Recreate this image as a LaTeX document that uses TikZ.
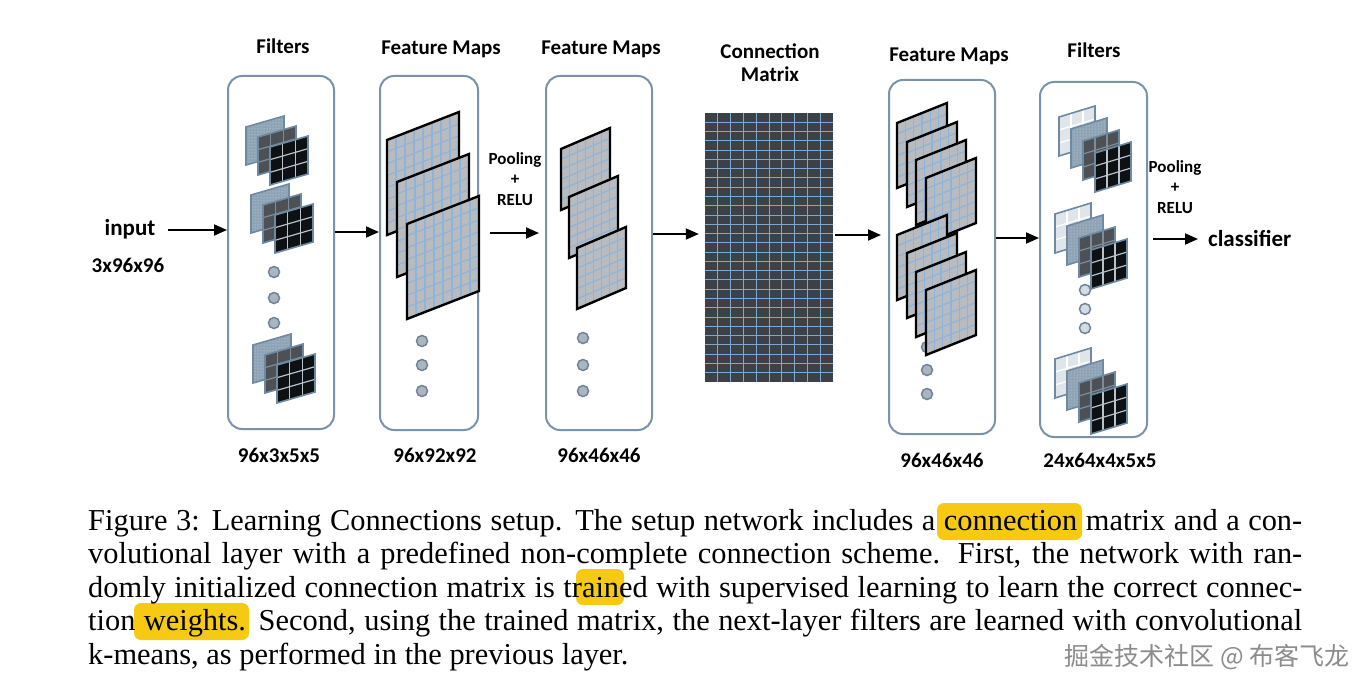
\documentclass[tikz,border=0pt]{standalone}
\usepackage{fontspec}
\usetikzlibrary{arrows.meta,patterns}
\newfontfamily\capfont{Liberation Serif}
\newfontfamily\lblfont{Carlito}
\newfontfamily\cjkfont{Noto Sans CJK SC}
\definecolor{boxedge}{HTML}{7A93AA}
\definecolor{fmgray}{HTML}{B8BCC1}
\definecolor{fmblue}{HTML}{8FB4D8}
\definecolor{matfill}{HTML}{3C4147}
\definecolor{matgrid}{HTML}{7EA8CF}
\definecolor{dotfill}{HTML}{AAB5C0}
\definecolor{dotedge}{HTML}{6F8497}
\definecolor{f1col}{HTML}{DFE5EA}
\definecolor{dotblue}{HTML}{8EA3B5}
\definecolor{dotwhite}{HTML}{D5DEE6}
\definecolor{f3col}{HTML}{4D5156}
\definecolor{f3grid}{HTML}{7F8B96}
\definecolor{f4col}{HTML}{0E1114}
\definecolor{f4grid}{HTML}{B9C2CA}
\definecolor{fedge}{HTML}{6F8AA0}
\definecolor{hlcol}{HTML}{F6C913}
\definecolor{wmcol}{HTML}{8C8C8C}
\tikzset{
  panelbox/.style={draw=boxedge, line width=2pt, rounded corners=14pt, inner sep=0pt, fill=white},
  lbl/.style={font=\lblfont\bfseries\fontsize{21}{24}\selectfont, inner sep=0pt},
  lblbig/.style={font=\lblfont\bfseries\fontsize{23}{26}\selectfont, inner sep=0pt},
  pooltext/.style={font=\lblfont\bfseries\fontsize{17}{20.5}\selectfont, inner sep=0pt, align=center},
  arr/.style={-{Triangle[length=13pt,width=11pt]}, line width=1.8pt, black},
  dotnode/.style={circle, fill=dotfill, draw=dotedge, line width=1.5pt, minimum size=11pt, inner sep=0pt},
  dotlight/.style={dotnode, fill=f1col!80!dotfill},
  matbox/.style={fill=matfill, draw=none, inner sep=0pt, minimum width=128pt, minimum height=269pt},
  matgridline/.style={draw=matgrid, line width=1pt},
  captext/.style={font=\capfont\fontsize{30.4}{33.5}\selectfont, inner sep=0pt, anchor=base west},
  wmtext/.style={font=\cjkfont\fontsize{25}{28}\selectfont, text=wmcol, inner sep=0pt},
  hlbox/.style={fill=hlcol, rounded corners=7pt},
  fmfill/.style={fill=fmgray},
  fmgrid/.style={draw=fmblue, line width=1.2pt},
  fmedge/.style={draw=black, line width=2.4pt, line join=miter},
  fonefill/.style={fill=f1col},
  fonegrid/.style={draw=white, line width=1.2pt},
  foneedge/.style={draw=fedge, line width=1.6pt},
  ftwofill/.style={fill=dotblue, postaction={pattern=dots, pattern color=dotwhite}},
  ftwogrid/.style={draw=dotwhite, line width=1pt},
  ftwoedge/.style={draw=fedge, line width=1.6pt},
  fthreefill/.style={fill=f3col},
  fthreegrid/.style={draw=f3grid, line width=1.2pt},
  fthreeedge/.style={draw=fedge, line width=1.6pt},
  ffourfill/.style={fill=f4col},
  ffourgrid/.style={draw=f4grid, line width=1.2pt},
  ffouredge/.style={draw=fedge, line width=1.6pt},
}
% parallelogram with grid: x, y (top-left), w, h, slant, n, style prefix
\newcommand\gpg[7]{%
  \fill[#7fill] (#1,#2) -- ++(#3,-#5) -- ++(0,#4) -- ++(-#3,#5) -- cycle;
  \ifnum#6>1\relax
    \pgfmathtruncatemacro\gpgn{#6-1}%
    \foreach \k in {1,...,\gpgn}{%
      \draw[#7grid] ({#1+\k*#3/#6},{#2-\k*#5/#6}) -- ++(0,#4);
      \draw[#7grid] (#1,{#2+\k*#4/#6}) -- ++(#3,-#5);
    }%
  \fi
  \draw[#7edge] (#1,#2) -- ++(#3,-#5) -- ++(0,#4) -- ++(-#3,#5) -- cycle;}
\newcommand\stackthree[2]{%
  \gpg{#1}{#2}{38}{38}{11}{0}{ftwo}%
  \gpg{#1+12}{#2+10}{38}{38}{11}{3}{fthree}%
  \gpg{#1+24}{#2+20}{38}{38}{11}{3}{ffour}}
\newcommand\stackfour[2]{%
  \gpg{#1}{#2}{36}{39}{11}{3}{fone}%
  \gpg{#1+12}{#2+12}{36}{39}{11}{0}{ftwo}%
  \gpg{#1+24}{#2+24}{36}{39}{11}{3}{fthree}%
  \gpg{#1+36}{#2+36}{36}{39}{11}{3}{ffour}}
\begin{document}
\begin{tikzpicture}[x=1pt,y=-1pt]
\useasboundingbox (0,0) rectangle (1372,690);
\fill[white] (0,0) rectangle (1372,690);

% boxes
\node[panelbox, minimum width=106pt, minimum height=353pt] (b1) at (281,252.5) {};
\node[panelbox, minimum width=98pt, minimum height=354pt] (b2) at (429,253) {};
\node[panelbox, minimum width=106pt, minimum height=354pt] (b3) at (599,253) {};
\node[matbox] (mat) at (769,247.5) {};
\node[panelbox, minimum width=106pt, minimum height=354pt] (b4) at (942,257) {};
\node[panelbox, minimum width=107pt, minimum height=355pt] (b5) at (1093.5,259.5) {};

% connection matrix grid
\foreach \i in {1,...,9} \draw[matgridline] ({705+\i*12.8},113) -- ++(0,269);
\foreach \j in {1,...,28} \draw[matgridline] (705,{113+\j*269/29}) -- ++(128,0);

% titles
\node[lbl, anchor=base] (t1) at (283,54) {Filters};
\node[lbl, anchor=base] (t2) at (441,55) {Feature Maps};
\node[lbl, anchor=base] (t3) at (601,55) {Feature Maps};
\node[lbl, anchor=base] (t4a) at (770,59) {Connection};
\node[lbl, anchor=base] (t4b) at (770,82) {Matrix};
\node[lbl, anchor=base] (t5) at (949,62) {Feature Maps};
\node[lbl, anchor=base] (t6) at (1094,58) {Filters};

% bottom labels
\node[lbl, anchor=base] (s1) at (279,462) {96x3x5x5};
\node[lbl, anchor=base] (s2) at (435,462) {96x92x92};
\node[lbl, anchor=base] (s3) at (599,462) {96x46x46};
\node[lbl, anchor=base] (s4) at (942,467) {96x46x46};
\node[lbl, anchor=base] (s5) at (1100,467) {24x64x4x5x5};

% input / output labels
\node[lblbig, anchor=base] (in) at (130,235) {input};
\node[lbl, anchor=base] (insz) at (128,272) {3x96x96};
\node[pooltext] (pool1) at (515,179) {Pooling\\+\\RELU};
\node[pooltext] (pool2) at (1175,187) {Pooling\\+\\RELU};
\node[lblbig, anchor=base west] (cls) at (1208,246) {classifier};

% dots
\node[dotnode] (d1a) at (274,272) {};
\node[dotnode] (d1b) at (274,298) {};
\node[dotnode] (d1c) at (274,323) {};
\node[dotnode] (d2a) at (422,341) {};
\node[dotnode] (d2b) at (422,365) {};
\node[dotnode] (d2c) at (422,391) {};
\node[dotnode] (d3a) at (583,338) {};
\node[dotnode] (d3b) at (583,365) {};
\node[dotnode] (d3c) at (583,391) {};
\node[dotnode] (d4a) at (927,347) {};
\node[dotnode] (d4b) at (927,370) {};
\node[dotnode] (d4c) at (927,394) {};
\node[dotlight] (d5a) at (1085,290) {};
\node[dotlight] (d5b) at (1085,309) {};
\node[dotlight] (d5c) at (1085,328) {};

% filters, box 1
\stackthree{246}{127}
\stackthree{251}{195}
\stackthree{253}{345}

% feature maps, box 2
\gpg{387}{140}{72}{95}{28}{8}{fm}
\gpg{397}{182}{72}{95}{28}{8}{fm}
\gpg{407}{224}{72}{95}{28}{8}{fm}

% feature maps, box 3
\gpg{561}{149}{49}{61}{21}{6}{fm}
\gpg{569}{197}{49}{61}{21}{6}{fm}
\gpg{577}{248}{49}{61}{21}{6}{fm}

% feature maps, box 4
\gpg{897}{123}{50}{65}{20}{6}{fm}
\gpg{907}{142}{50}{65}{20}{6}{fm}
\gpg{916}{160}{50}{65}{20}{6}{fm}
\gpg{926}{178}{50}{65}{20}{6}{fm}
\gpg{897}{235}{50}{65}{20}{6}{fm}
\gpg{907}{253}{50}{65}{20}{6}{fm}
\gpg{916}{272}{50}{65}{20}{6}{fm}
\gpg{926}{290}{50}{65}{20}{6}{fm}

% filters, box 5
\stackfour{1059}{117}
\stackfour{1055}{214}
\stackfour{1055}{359}

% connectors
\coordinate (y0) at (168,230);
\coordinate (y1) at (0,232);
\coordinate (y2) at (490,233);
\coordinate (y3) at (0,234);
\coordinate (y4) at (0,235);
\coordinate (y5) at (0,238);
\coordinate (y6) at (1153,239);
\draw[arr] (y0) -- (y0 -| b1.west);
\draw[arr] (b1.east |- y1) -- (b2.west |- y1);
\draw[arr, shorten >=6pt] (y2) -- (y2 -| b3.west);
\draw[arr, shorten >=6pt] (b3.east |- y3) -- (mat.west |- y3);
\draw[arr, shorten <=2pt, shorten >=7pt] (mat.east |- y4) -- (b4.west |- y4);
\draw[arr] (b4.east |- y5) -- (b5.west |- y5);
\draw[arr, shorten >=10pt] (y6) -- (y6 -| cls.west);

% caption highlights
\fill[hlbox] (937,503) rectangle (1082,540);
\fill[hlbox] (576,569) rectangle (624,605);
\fill[hlbox] (134,603) rectangle (249,640);

% caption
\node[captext] (c1) at (88,530) {\makebox[1214pt][s]{Figure 3: Learning Connections setup. The setup network includes a connection matrix and a con-}};
\node[captext] (c2) at (88,563.5) {\makebox[1214pt][s]{volutional layer with a predefined non-complete connection scheme. First, the network with ran-}};
\node[captext] (c3) at (88,597) {\makebox[1214pt][s]{domly initialized connection matrix is trained with supervised learning to learn the correct connec-}};
\node[captext] (c4) at (88,630.5) {\makebox[1214pt][s]{tion weights. Second, using the trained matrix, the next-layer filters are learned with convolutional}};
\node[captext] (c5) at (88,664) {k-means, as performed in the previous layer.};

% watermark
\node[wmtext, anchor=base east] (wmk) at (1350,665) {掘金技术社区 @ 布客飞龙};
\end{tikzpicture}
\end{document}
